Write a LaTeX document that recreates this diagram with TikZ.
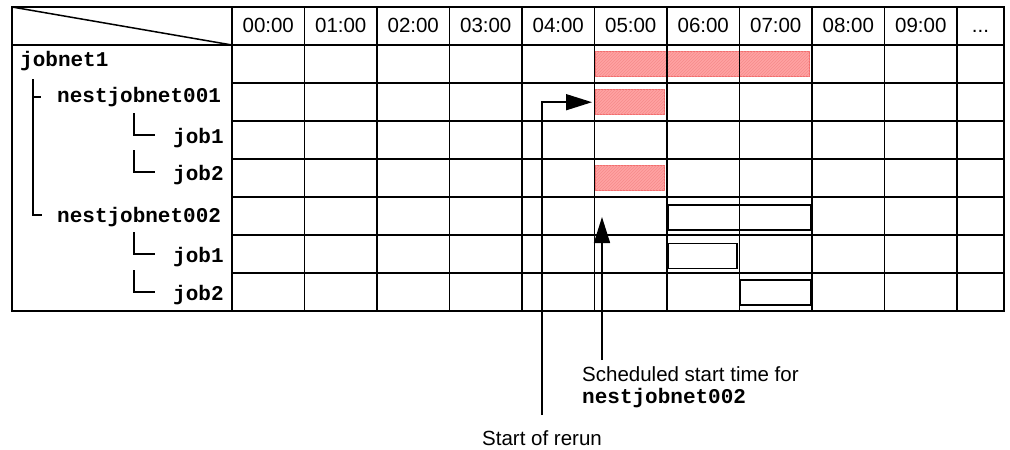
\documentclass[tikz,border=0pt]{standalone}
\usepackage{fontspec}
\setmainfont{Liberation Sans}
\setmonofont{Liberation Mono}
\usetikzlibrary{arrows.meta,patterns}
\definecolor{barred}{RGB}{255,162,162}
\definecolor{barhatch}{RGB}{246,140,140}
\definecolor{baredge}{RGB}{242,108,108}
\begin{document}
\begin{tikzpicture}[x=1pt,y=-1pt,
  gridline/.style={line width=1.5pt, black},
  treeline/.style={line width=1.4pt, black},
  hdr/.style={font=\fontsize{20.5}{24}\selectfont, inner sep=0pt, anchor=base},
  jobname/.style={font=\ttfamily\bfseries\fontsize{21}{24}\selectfont, inner sep=0pt, anchor=base west},
  note/.style={font=\fontsize{20.5}{24}\selectfont, inner sep=0pt, anchor=base west},
  notemono/.style={font=\ttfamily\bfseries\fontsize{21}{24}\selectfont, inner sep=0pt, anchor=base west},
  runbar/.style={draw=baredge, line width=1.4pt, fill=barred,
    postaction={pattern=north east lines, pattern color=barhatch},
    minimum height=25pt, inner sep=0pt, anchor=north west},
  planbar/.style={draw=black, line width=1.6pt, minimum height=25pt,
    inner sep=0pt, anchor=north west},
  bigarrow/.style={line width=1.6pt, -{Triangle[length=26pt,width=16pt]}}]
\useasboundingbox (0,0) rectangle (1010,450);

% executed jobs (hatched red bars)
\node[runbar, minimum width=214pt] (barJN1) at (595,51) {};
\node[runbar, minimum width=69pt]  (barN1)  at (595,89) {};
\node[runbar, minimum width=69pt]  (barN1J2) at (595,165) {};

% scheduled jobs (outlined bars)
\node[planbar, minimum width=143pt] (barN2)   at (667,204) {};
\node[planbar, minimum width=69pt]  (barN2J1) at (667,242.5) {};
\node[planbar, minimum width=71pt]  (barN2J2) at (739,279) {};

% table frame and grid
\draw[gridline] (12,7) rectangle (1004,311);
\draw[gridline] (12,45) -- (1004,45);
\foreach \y in {83,121,159,197,235,273}
  \draw[gridline] (232,\y) -- (1004,\y);
\foreach \x in {232,304.5,377,449.5,522,594.5,667,739.5,812,884.5,957}
  \draw[gridline] (\x,7) -- (\x,311);
\draw[gridline] (12,7) -- (232,45);

% hour headings
\foreach \t [count=\i from 0] in {00:00,01:00,02:00,03:00,04:00,05:00,06:00,07:00,08:00,09:00}
  \node[hdr] (h\i) at ({268.25+72.5*\i},32) {\t};
\node[hdr] (h10) at (980.5,32) {...};

% job tree
\node[jobname] (jn1)   at (20,66)   {jobnet1};
\node[jobname] (n1)    at (57,102)  {nestjobnet001};
\node[jobname] (n1j1)  at (173,143) {job1};
\node[jobname] (n1j2)  at (173,180) {job2};
\node[jobname] (n2)    at (57,222)  {nestjobnet002};
\node[jobname] (n2j1)  at (173,262) {job1};
\node[jobname] (n2j2)  at (173,300) {job2};

\draw[treeline] (33,79) -- (33,215) -- (42,215);
\draw[treeline] (33,97) -- (41,97);
\foreach \b in {143,180,262,300}
  \draw[treeline] (134,\b-30) -- (134,\b-8) -- (155,\b-8);

% annotations
\node[note] (schedA) at (582,381) {Scheduled start time for};
\node[notemono] (schedB) at (582,403) {nestjobnet002};
\node[note] (rerun) at (482,445) {Start of rerun};

\coordinate (schedfoot) at (602,360);
\coordinate (schedtip) at (602,217);
\draw[bigarrow] (schedfoot) -- (schedtip);

\coordinate (rerunfoot) at (542,415);
\draw[bigarrow, shorten >=3pt] (rerunfoot) |- (barN1.west);
\end{tikzpicture}
\end{document}
